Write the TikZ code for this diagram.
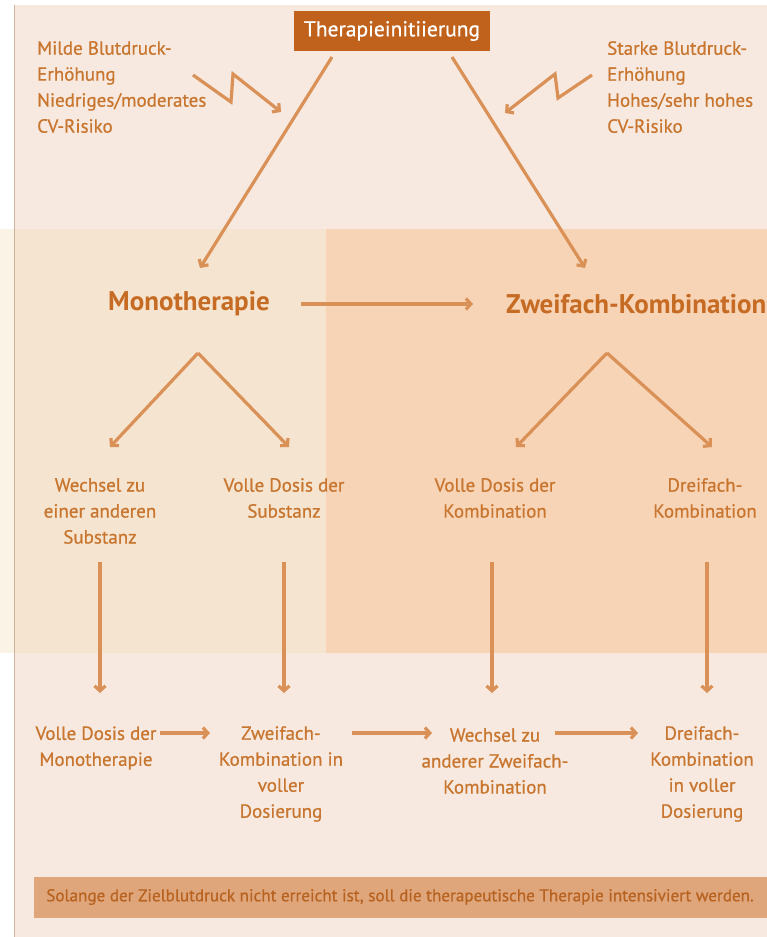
\documentclass[tikz,border=0pt]{standalone}
\usepackage{fontspec}
\setmainfont{PT Sans}
\newfontfamily\mittel{PT Sans}[FakeBold=0.7]
\usetikzlibrary{arrows.meta}

\definecolor{seite}{HTML}{F7E9DF}
\definecolor{bandmono}{HTML}{F5E4CF}
\definecolor{bandkombi}{HTML}{F7D4B6}
\definecolor{randstreifen}{HTML}{FBF3E6}
\definecolor{randlinie}{HTML}{CDB29C}
\definecolor{titelbox}{HTML}{C1621C}
\definecolor{textorange}{HTML}{C8762F}
\definecolor{koporange}{HTML}{C66B24}
\definecolor{pijlorange}{HTML}{DA9157}
\definecolor{leiste}{HTML}{DFA57B}
\definecolor{leistetext}{HTML}{B8621F}

\begin{document}
\begin{tikzpicture}[x=1pt, y=-1pt,
    txt/.style={text=textorange, align=center, font=\mittel\fontsize{19}{26}\selectfont, inner sep=0pt},
    kop/.style={text=koporange, font=\bfseries\fontsize{27}{30}\selectfont, inner sep=0pt},
    pijl/.style={-{Straight Barb[length=5pt,width=11pt]}, line width=3.2pt, draw=pijlorange}]
    \useasboundingbox (0,0) rectangle (767,937);

    % Hintergrund
    \fill[white] (0,0) rectangle (767,937);
    \fill[seite] (15,5) rectangle (767,937);
    \fill[randstreifen] (0,229) rectangle (15,653);
    \fill[bandmono] (15,229) rectangle (326,653);
    \fill[bandkombi] (326,229) rectangle (767,653);
    \draw[randlinie, line width=1.2pt] (14.4,5) -- (14.4,937);

    % Titel
    \node[fill=titelbox, text=white, font=\mittel\fontsize{21.5}{24}\selectfont,
          minimum width=196pt, minimum height=40pt] (titel) at (392,31) {Therapieinitiierung};

    % Ausgangslage links und rechts
    \node[txt, align=left, anchor=north west] (mild) at (37,41)
        {Milde Blutdruck-\\Erhöhung\\Niedriges/moderates\\CV-Risiko};
    \node[txt, align=left, anchor=north west] (stark) at (607,41)
        {Starke Blutdruck-\\Erhöhung\\Hohes/sehr hohes\\CV-Risiko};

    % Zickzackpfeile
    \coordinate (zl0) at (193,75);
    \coordinate (zl1) at (231,102);
    \coordinate (zl2) at (233,74);
    \coordinate (zl3) at (281,112);
    \coordinate (zr0) at (592,75);
    \coordinate (zr1) at (558,98);
    \coordinate (zr2) at (555,74);
    \coordinate (zr3) at (505,113);
    \draw[pijl, line join=miter] (zl0) -- (zl1) -- (zl2) -- (zl3);
    \draw[pijl, line join=miter] (zr0) -- (zr1) -- (zr2) -- (zr3);

    % Zweite Ebene
    \node[kop] (mono) at (189,304) {Monotherapie};
    \node[kop, anchor=west] (zweifach) at (506,304) {Zweifach-Kombination};

    \coordinate (tl) at (332,57);
    \coordinate (tr) at (452,57);
    \draw[pijl] (tl) -- (200,268) coordinate (ml);
    \draw[pijl] (tr) -- (585,268) coordinate (mr);
    \draw[pijl] (mono.east) ++(31,0) coordinate (ma) -- (473,304) coordinate (me);

    % Verzweigungen
    \coordinate (gabel1) at (198,353);
    \coordinate (gabel2) at (607,353);

    \node[txt] (wechsel) at (100,511) {Wechsel zu\\einer anderen\\Substanz};
    \node[txt] (vollsub) at (284,498) {Volle Dosis der\\Substanz};
    \node[txt] (vollkomb) at (495,498) {Volle Dosis der\\Kombination};
    \node[txt] (dreifach) at (705,498) {Dreifach-\\Kombination};

    \draw[pijl] (gabel1) -- (110,447);
    \draw[pijl] (gabel1) -- (289,447);
    \draw[pijl] (gabel2) -- (516,447);
    \draw[pijl] (gabel2) -- (712,447);

    % Unterste Ebene
    \node[txt] (vollmono) at (96,748) {Volle Dosis der\\Monotherapie};
    \node[txt] (zweivoll) at (281,774) {Zweifach-\\Kombination in\\voller\\Dosierung};
    \node[txt] (wechselzwei) at (495,761) {Wechsel zu\\anderer Zweifach-\\Kombination};
    \node[txt] (dreivoll) at (702,774) {Dreifach-\\Kombination\\in voller\\Dosierung};

    \draw[pijl] (100,562) -- (100,693);
    \draw[pijl] (284,562) -- (284,693);
    \draw[pijl] (492,562) -- (492,693);
    \draw[pijl] (707,562) -- (707,693);

    \draw[pijl] (160,733) -- (210,733);
    \draw[pijl] (352,733) -- (432,733);
    \draw[pijl] (555,733) -- (638,733);

    % Hinweisleiste
    \fill[leiste] (34,877) rectangle (767,918);
    \node[text=leistetext, font=\mittel\fontsize{17.1}{22}\selectfont] (hinweis) at (400,897)
        {Solange der Zielblutdruck nicht erreicht ist, soll die therapeutische Therapie intensiviert werden.};
\end{tikzpicture}
\end{document}
